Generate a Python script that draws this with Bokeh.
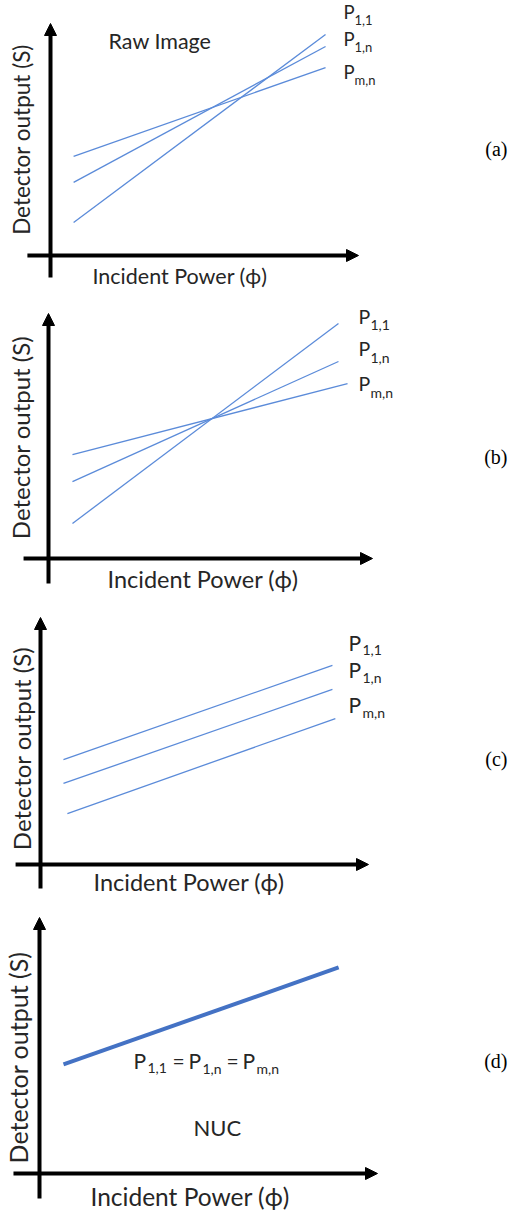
import math
from bokeh.plotting import figure
from bokeh.models import Range1d, Arrow, NormalHead
from bokeh.layouts import column
from bokeh.core.properties import value
from bokeh.embed import file_html
from bokeh.resources import INLINE

# ---------------- data (normalised units: axis origin = 0, arrow tip = 100) ----------------
series_names = ["P1,1", "P1,n", "Pm,n"]
subscripts = ["1,1", "1,n", "m,n"]

# (a) raw image
a_x = [7.5, 89.3]
a_p11 = [14.2, 95.3]
a_p1n = [31.5, 90.1]
a_pmn = [42.7, 81.0]

# (b)
b_x = [7.4, 89.5]
b_pmn_x = [7.4, 92.3]
b_p11 = [14.3, 95.9]
b_p1n = [31.4, 80.4]
b_pmn = [42.4, 71.4]

# (c)
c_x = [7.0, 89.0]
c_pmn_x = [8.2, 89.9]
c_p11 = [42.5, 80.6]
c_p1n = [32.8, 70.9]
c_pmn = [20.6, 59.1]

# (d) NUC
d_x = [7.1, 88.5]
d_nuc = [42.6, 80.5]

axis_x_start = [-7.5, -7.7, -7.6, -7.7]
axis_y_start = [-9.5, -10.2, -9.7, -9.8]
axis_tip = 100

panel_tags = ["(a)", "(b)", "(c)", "(d)"]
x_label = "Incident Power (\u03d5)"
y_label = "Detector output (S)"

# ---------------- layout ----------------
W = 509
X0 = 0
LINE_COLOR = "#5b8bd9"
TEXT_COLOR = "#262626"
FONT = "Lato"
K_BASE = 0.36  # baseline correction (fraction of font size)
TAG_SIZE = 20


class Panel:
    def __init__(self, top, bottom, ox, oy, sx, sy):
        self.top, self.bottom = top, bottom
        self.ox, self.oy, self.sx, self.sy = ox, oy, sx, sy
        p = figure(width=W, height=bottom - top,
                   x_range=Range1d((X0 - ox) / sx, (X0 + W - ox) / sx),
                   y_range=Range1d((oy - bottom) / sy, (oy - top) / sy),
                   output_backend="svg", toolbar_location=None,
                   x_axis_type=None, y_axis_type=None, min_border=0)
        p.outline_line_color = None
        p.background_fill_color = "white"
        p.border_fill_color = "white"
        self.p = p

    def ux(self, X):
        return (X - self.ox) / self.sx

    def uy(self, Y):
        return (self.oy - Y) / self.sy

    def text(self, X, Y, s, size, font=FONT, align="left", angle=0.0,
             color=TEXT_COLOR, baseline="alphabetic"):
        if angle == 0:
            Y = Y - K_BASE * size
        else:
            X = X - K_BASE * size
        self.p.text(x=[self.ux(X)], y=[self.uy(Y)], text=[s],
                    text_font=value(font), text_font_size=f"{size}px",
                    text_align=align, text_baseline=baseline, angle=angle,
                    text_color=color)

    def plabel(self, X, Yb, sub, psize, ssize, sub_x, sub_dy):
        self.text(X, Yb, "P", psize)
        self.text(sub_x, Yb + sub_dy, sub, ssize)

    def axes(self, i):
        p = self.p
        p.add_layout(Arrow(end=NormalHead(size=12, fill_color="black", line_color="black", line_width=1),
                           x_start=axis_x_start[i], y_start=0, x_end=axis_tip, y_end=0,
                           line_width=4, line_color="black"))
        p.add_layout(Arrow(end=NormalHead(size=12, fill_color="black", line_color="black", line_width=1),
                           x_start=0, y_start=axis_y_start[i], x_end=0, y_end=axis_tip,
                           line_width=4, line_color="black"))


# ---- panel (a)
A = Panel(0, 290, 50, 255, 3.08, 2.32)
A.axes(0)
for ys in (a_p11, a_p1n, a_pmn):
    A.p.line(a_x, ys, line_color=LINE_COLOR, line_width=1.3)
A.text(108, 48, "Raw Image", 21.5)
A.text(92, 283, x_label, 21.5)
A.text(29, 139, y_label, 22.5, align="center", angle=math.pi / 2)
for Yb, sub in zip([18, 45, 78], subscripts):
    A.plabel(343, Yb, sub, 18.5, 13, 354, 6)
A.text(507, 156, panel_tags[0], TAG_SIZE, font="Liberation Serif", align="right", color="black")

# ---- panel (b)
B = Panel(290, 595, 48, 558, 3.24, 2.45)
B.axes(1)
B.p.line(b_x, b_p11, line_color=LINE_COLOR, line_width=1.3)
B.p.line(b_x, b_p1n, line_color=LINE_COLOR, line_width=1.3)
B.p.line(b_pmn_x, b_pmn, line_color=LINE_COLOR, line_width=1.3)
B.text(107, 587, x_label, 23.5)
B.text(29, 437, y_label, 24, align="center", angle=math.pi / 2)
for Yb, sub in zip([323, 355, 390], subscripts):
    B.plabel(358, Yb, sub, 19.5, 14, 370, 7)
B.text(507, 464, panel_tags[1], TAG_SIZE, font="Liberation Serif", align="right", color="black")

# ---- panel (c)
C = Panel(595, 905, 40, 864, 3.28, 2.47)
C.axes(2)
C.p.line(c_x, c_p11, line_color=LINE_COLOR, line_width=1.3)
C.p.line(c_x, c_p1n, line_color=LINE_COLOR, line_width=1.3)
C.p.line(c_pmn_x, c_pmn, line_color=LINE_COLOR, line_width=1.3)
C.text(93, 890, x_label, 23.5)
C.text(30, 748, y_label, 24, align="center", angle=math.pi / 2)
for Yb, sub in zip([650, 677, 712], subscripts):
    C.plabel(348, Yb, sub, 21, 14, 362, 5)
C.text(507, 766, panel_tags[2], TAG_SIZE, font="Liberation Serif", align="right", color="black")

# ---- panel (d)
D = Panel(905, 1213, 39, 1173, 3.38, 2.56)
D.axes(3)
D.p.line(d_x, d_nuc, line_color="#4472c4", line_width=4)
D.text(90, 1205, x_label, 24.5)
D.text(26, 1057, y_label, 25, align="center", angle=math.pi / 2)
D.plabel(133, 1068, subscripts[0], 21, 14, 147, 5)
D.text(172, 1068, "=", 21)
D.plabel(188, 1068, subscripts[1], 21, 14, 202, 5)
D.text(226, 1068, "=", 21)
D.plabel(242, 1068, subscripts[2], 21, 14, 256, 5)
D.text(193, 1135, "NUC", 22)
D.text(507, 1068, panel_tags[3], TAG_SIZE, font="Liberation Serif", align="right", color="black")

layout = column(A.p, B.p, C.p, D.p, spacing=0)
open("out.html", "w").write(file_html(layout, INLINE))
